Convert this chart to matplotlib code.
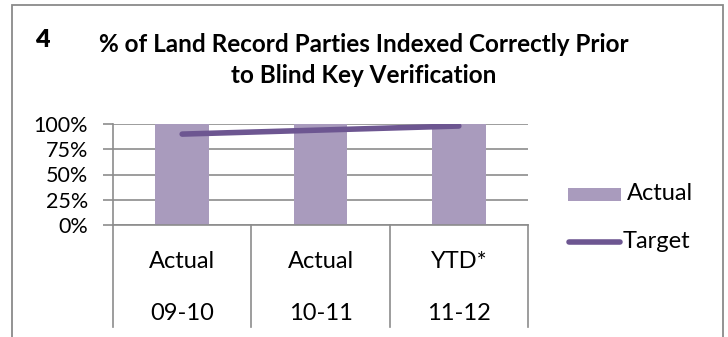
import matplotlib
matplotlib.use("Agg")
import matplotlib.pyplot as plt
from matplotlib.patches import Rectangle
from matplotlib.lines import Line2D
import matplotlib.transforms as mtransforms

plt.rcParams["font.family"] = ["Lato", "DejaVu Sans"]

periods = ["Actual", "Actual", "YTD*"]
years = ["09-10", "10-11", "11-12"]
actual = [100, 100, 100]
target = [90, 94, 98]
yticks = [0, 25, 50, 75, 100]

BAR = "#A99BBD"
LINE = "#6D5691"
GRID = "#8C8C8C"

W, H = 728, 337
fig = plt.figure(figsize=(W / 100, H / 100), dpi=100)


def fx(px):
    return px / W


def fy(py):
    return 1 - py / H


# outer frame (bottom edge runs off the figure)
fig.patches.append(Rectangle((fx(12), -0.1), fx(723 - 12), 1.1 - 5 / H,
                             transform=fig.transFigure, fill=False,
                             edgecolor="#8A8A8A", lw=1.3))

fig.text(fx(42), fy(47), "4", fontsize=18, fontweight="heavy",
         ha="center", va="baseline")
fig.text(fx(364), fy(52), "% of Land Record Parties Indexed Correctly Prior",
         fontsize=17.5, fontweight="bold", ha="center", va="baseline")
fig.text(fx(364), fy(83), "to Blind Key Verification",
         fontsize=17.5, fontweight="bold", ha="center", va="baseline")

ax = fig.add_axes([fx(113), fy(225), fx(528 - 113), (225 - 124) / H])
x = range(len(actual))
ax.bar(x, actual, width=0.39, color=BAR, zorder=2)
ax.plot(x, target, color=LINE, lw=4, solid_capstyle="round", zorder=3)

ax.set_xlim(-0.5, 2.5)
ax.set_ylim(0, 100)
ax.set_yticks(yticks)
ax.set_yticklabels([f"{v}%" for v in yticks], fontsize=15.5)
ax.yaxis.grid(True, color=GRID, lw=1.2, zorder=0)
ax.tick_params(axis="y", direction="out", length=7, width=1.2, color=GRID,
               pad=11)
ax.set_xticks([])
for s in ["top", "right"]:
    ax.spines[s].set_visible(False)
for s in ["left", "bottom"]:
    ax.spines[s].set_color(GRID)
    ax.spines[s].set_linewidth(1.2)

# two-level category axis drawn below the plot
trans = mtransforms.blended_transform_factory(ax.transData, ax.transAxes)
ph = 225 - 124
for b in [-0.5, 0.5, 1.5, 2.5]:
    ax.plot([b, b], [0, -(327 - 225) / ph], transform=trans, color=GRID,
            lw=1.2, clip_on=False)
for i in x:
    ax.text(i, -(268 - 225) / ph, periods[i], transform=trans, ha="center",
            va="baseline", fontsize=17)
    ax.text(i, -(320 - 225) / ph, years[i], transform=trans, ha="center",
            va="baseline", fontsize=17)

# legend
fig.patches.append(Rectangle((fx(568), fy(201)), fx(621 - 568), (201 - 188) / H,
                             transform=fig.transFigure, facecolor=BAR,
                             edgecolor="none"))
fig.lines.append(Line2D([fx(569), fx(620)], [fy(242), fy(242)],
                        transform=fig.transFigure, color=LINE, lw=4,
                        solid_capstyle="round"))
fig.text(fx(627), fy(194), "Actual", fontsize=17, ha="left", va="center")
fig.text(fx(623), fy(242), "Target", fontsize=17, ha="left", va="center")

fig.savefig("out.png", dpi=100)
